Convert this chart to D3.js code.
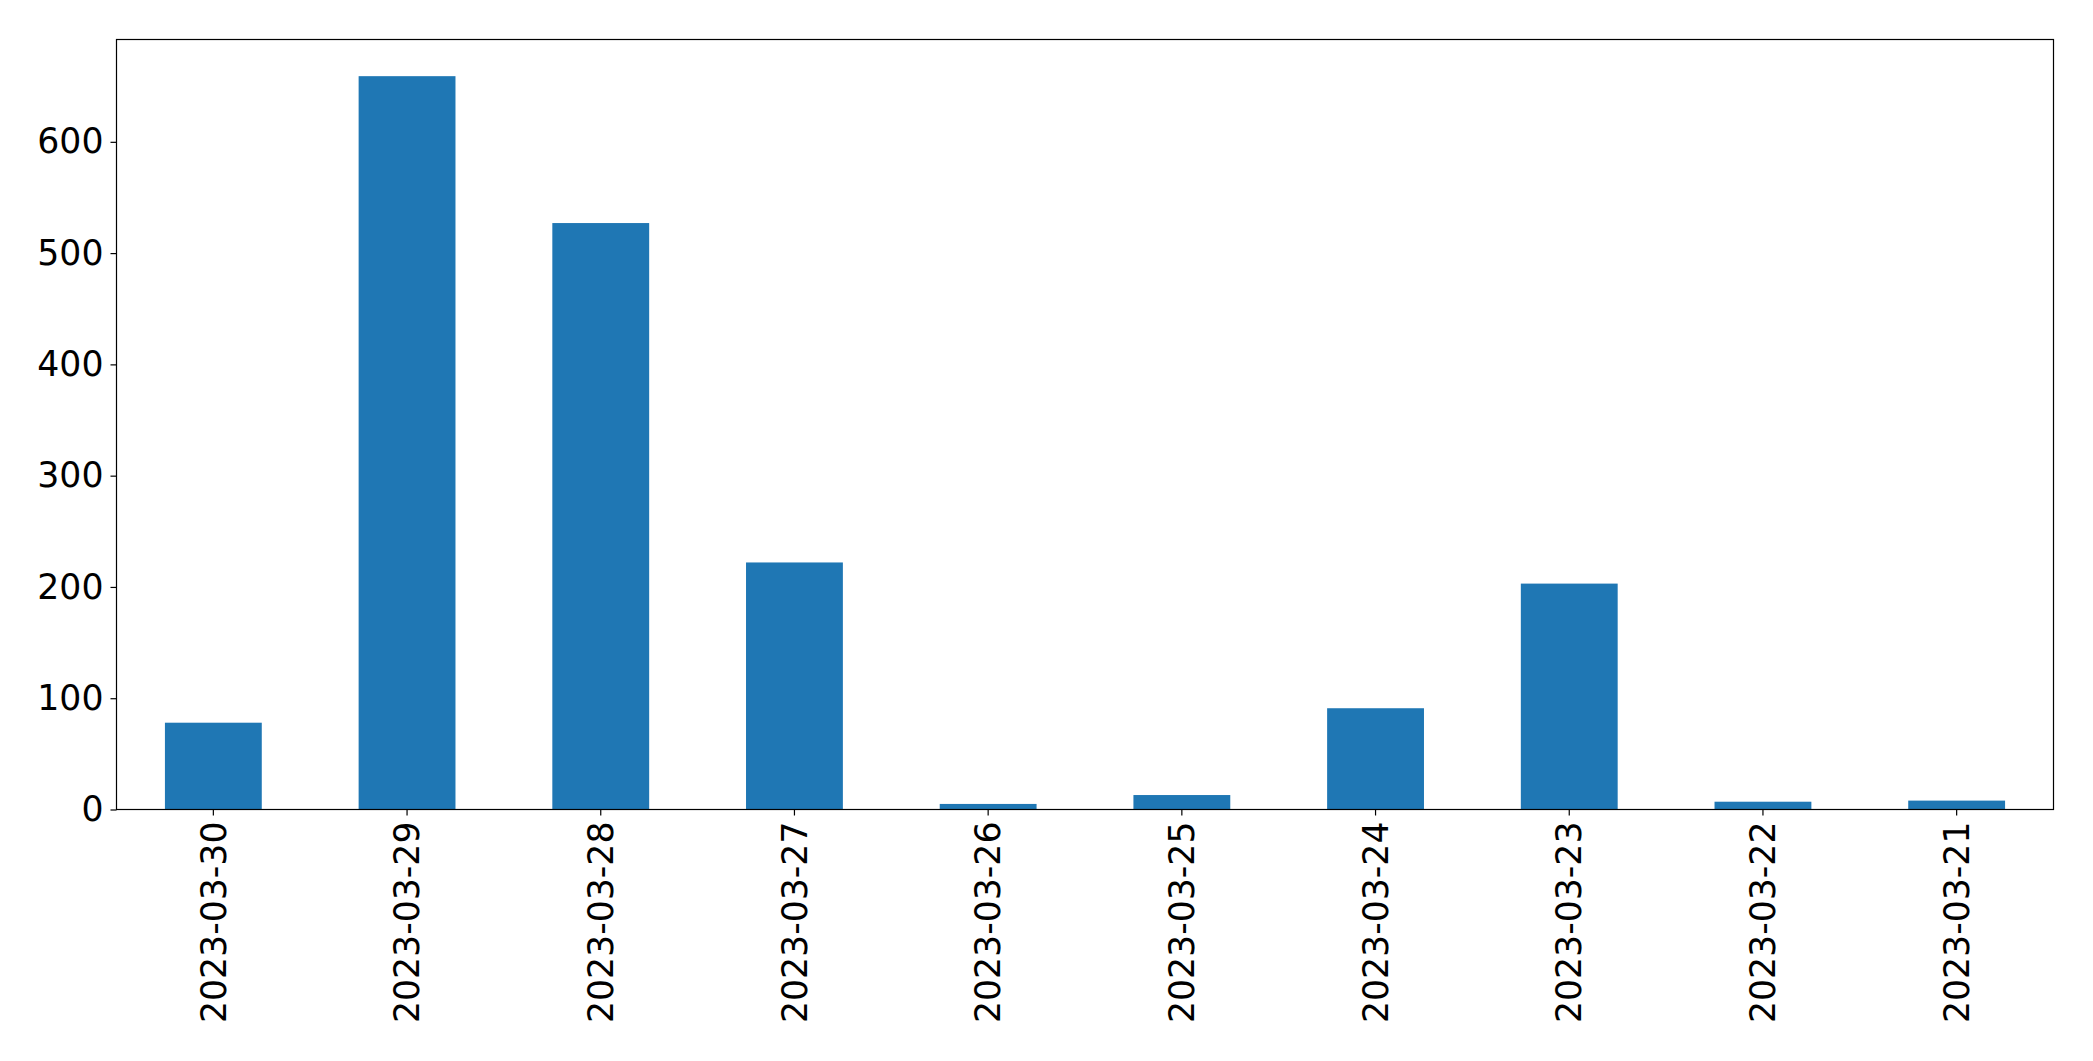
<!DOCTYPE html>
<html>
<head>
<meta charset="utf-8">
<script src="https://cdn.jsdelivr.net/npm/d3@7"></script>
<style>
  html, body { margin: 0; padding: 0; background: #fff; }
  svg { display: block; }
</style>
</head>
<body>
<svg id="chart" width="2093" height="1061"></svg>
<script>
const categories = ["2023-03-30", "2023-03-29", "2023-03-28", "2023-03-27", "2023-03-26",
                    "2023-03-25", "2023-03-24", "2023-03-23", "2023-03-22", "2023-03-21"];
const values = [78, 659, 527, 222, 5, 13, 91, 203, 7, 8];
const yTicks = [0, 100, 200, 300, 400, 500, 600];

const W = 2093, H = 1061;
const margin = { left: 116.5, top: 39.5, right: W - 2053.5, bottom: H - 809.5 };
const iw = W - margin.left - margin.right;
const ih = H - margin.top - margin.bottom;

const svg = d3.select("#chart");
const g = svg.append("g").attr("transform", `translate(${margin.left},${margin.top})`);

const x = d3.scaleBand().domain(categories).range([0, iw]).paddingInner(0.5).paddingOuter(0.25);
const y = d3.scaleLinear().domain([0, d3.max(values) * 1.05]).range([ih, 0]);

g.selectAll("rect.bar")
  .data(categories.map((c, i) => ({ c, v: values[i] })))
  .join("rect")
  .attr("class", "bar")
  .attr("x", d => x(d.c))
  .attr("width", x.bandwidth())
  .attr("y", d => y(d.v))
  .attr("height", d => y(0) - y(d.v))
  .attr("fill", "#1f77b4");

const fontFamily = "DejaVu Sans, sans-serif";
const fontSize = "34.7px";

// Y axis
const yAxis = g.append("g")
  .call(d3.axisLeft(y).tickValues(yTicks).tickSize(6).tickPadding(7).tickFormat(d3.format("d")));
yAxis.select(".domain").remove();
yAxis.selectAll("text").attr("font-family", fontFamily).attr("font-size", fontSize).attr("fill", "#000");
yAxis.selectAll("line").attr("stroke", "#000").attr("stroke-width", 1.2);

// X axis
const xAxis = g.append("g")
  .attr("transform", `translate(0,${ih})`)
  .call(d3.axisBottom(x).tickSize(6).tickPadding(7));
xAxis.select(".domain").remove();
xAxis.selectAll("line").attr("stroke", "#000").attr("stroke-width", 1.2);
xAxis.selectAll("text")
  .attr("font-family", fontFamily).attr("font-size", fontSize).attr("fill", "#000")
  .attr("transform", "rotate(-90)")
  .attr("text-anchor", "end")
  .attr("x", -12)
  .attr("y", 0)
  .attr("dy", "0.35em");

// Frame
g.append("rect")
  .attr("x", 0).attr("y", 0).attr("width", iw).attr("height", ih)
  .attr("fill", "none").attr("stroke", "#000").attr("stroke-width", 1.2);
</script>
</body>
</html>
